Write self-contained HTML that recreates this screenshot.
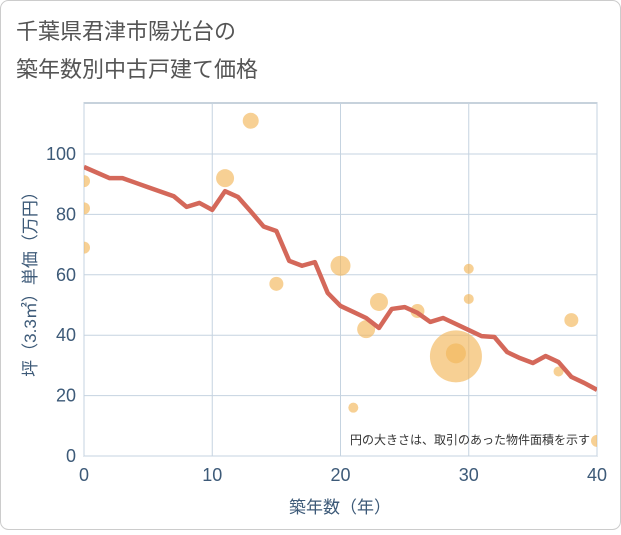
<!DOCTYPE html>
<html><head><meta charset="utf-8"><style>
body{margin:0;background:#fff;font-family:"Liberation Sans","Noto Sans CJK JP",sans-serif;}
</style></head><body>
<svg width="621" height="530" xmlns="http://www.w3.org/2000/svg" font-family="Liberation Sans, Noto Sans CJK JP, sans-serif">
<rect x="0.5" y="0.5" width="620" height="529" rx="8" fill="#fff" stroke="#ccc"/>
<text x="16" y="39" font-size="22" fill="#555">千葉県君津市陽光台の</text>
<text x="16" y="77" font-size="22" fill="#555">築年数別中古戸建て価格</text>
<defs><clipPath id="pc"><rect x="84" y="103" width="513" height="353"/></clipPath></defs>
<rect x="84" y="103" width="513" height="353" fill="#fff" stroke="#8fa4b8"/>
<g id="grid"></g><g id="bubbles" clip-path="url(#pc)"></g><g id="line" clip-path="url(#pc)"></g><g id="ticks"></g>
<text x="590" y="444" font-size="12" fill="#333" text-anchor="end">円の大きさは、取引のあった物件面積を示す</text>
<text x="340" y="513" font-size="17" fill="#3d5a78" text-anchor="middle">築年数（年）</text>
<text transform="translate(36,280) rotate(-90)" font-size="17" fill="#3d5a78" text-anchor="middle">坪（3.3㎡）単価（万円）</text>
</svg>
<script>
const xTicks=[0,10,20,30,40];
const yTicks=[0,20,40,60,80,100];
const lineX=[0,2,3,4,5,6,7,8,9,10,11,12,13,14,15,16,17,18,19,20,21,22,23,24,25,26,27,28,29,30,31,32,33,34,35,36,37,38,39,40];
const lineY=[95.7,92,92,90.5,89,87.5,86,82.5,83.8,81.5,87.7,85.8,81,76,74.5,64.6,63,64.2,54,49.7,47.7,45.7,42.4,48.7,49.3,47.4,44.4,45.7,43.7,41.7,39.7,39.4,34.4,32.4,30.8,33.1,31.1,26.2,24.2,21.9];
const bubX=[0,0,0,11,13,15,20,21,22,23,26,29,29,30,30,37,38,40];
const bubY=[91,82,69,92,111,57,63,16,42,51,48,33,34,62,52,28,45,5];
const bubR=[6,6,6,9,8,7,10,5,9,9,7,26,10,5,5,5,7,6];
const NS="http://www.w3.org/2000/svg";
const sx=v=>84+v*(513/40), sy=v=>456-v*3.02;
function mk(t,a,p){const e=document.createElementNS(NS,t);for(const k in a)e.setAttribute(k,a[k]);p.appendChild(e);return e;}
const grid=document.getElementById('grid'),ticks=document.getElementById('ticks');
xTicks.forEach(v=>{const l=mk('line',{x1:sx(v),x2:sx(v),y1:103,y2:456,stroke:'#c5d3e0'},grid);

const t=mk('text',{x:sx(v),y:481,'font-size':18,fill:'#3d5a78','text-anchor':'middle'},ticks);t.textContent=v;
});
yTicks.forEach(v=>{const l=mk('line',{x1:84,x2:597,y1:sy(v),y2:sy(v),stroke:'#c5d3e0'},grid);

const t=mk('text',{x:76,y:sy(v)+6,'font-size':18,fill:'#3d5a78','text-anchor':'end'},ticks);t.textContent=v;
});
const bg=document.getElementById('bubbles');
bubX.forEach((x,i)=>{const c=mk('circle',{cx:sx(x),cy:sy(bubY[i]),r:bubR[i],fill:'#f2b75a','fill-opacity':0.65},bg);
});
const p=mk('polyline',{points:lineX.map((x,i)=>sx(x)+','+sy(lineY[i])).join(' '),fill:'none',stroke:'#d4685a','stroke-width':4.5,'stroke-linejoin':'round'},document.getElementById('line'));

</script>
</body></html>
